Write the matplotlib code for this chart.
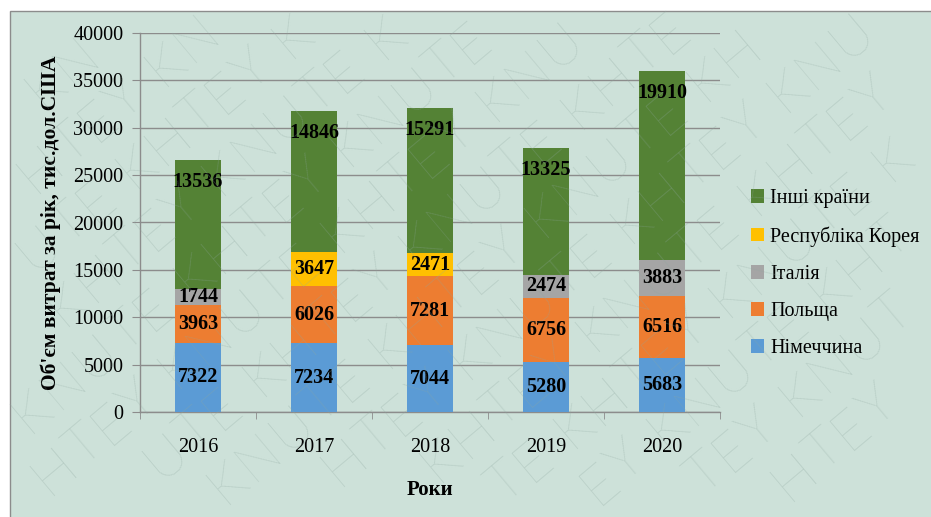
import matplotlib
matplotlib.use("Agg")
import matplotlib.pyplot as plt
import numpy as np
from matplotlib.patches import Rectangle
from matplotlib.ticker import FixedLocator, NullFormatter

years = ["2016", "2017", "2018", "2019", "2020"]
series_names = ["Німеччина", "Польща", "Італія", "Республіка Корея", "Інші країни"]
germany = [7322, 7234, 7044, 5280, 5683]
poland = [3963, 6026, 7281, 6756, 6516]
italy = [1744, 0, 0, 2474, 3883]
korea = [0, 3647, 2471, 0, 0]
others = [13536, 14846, 15291, 13325, 19910]
colors = ["#5b9bd5", "#ed7d31", "#a5a5a5", "#ffc000", "#548235"]
yticks = [0, 5000, 10000, 15000, 20000, 25000, 30000, 35000, 40000]
watermark_text = "KNUTE KHTEY "

bg = "#cde1d9"
serif = ["Liberation Serif", "DejaVu Serif"]

fig = plt.figure(figsize=(9.31, 5.17), dpi=100, facecolor="white")
W, H = 931, 517
fig.patches.append(Rectangle((10 / W, -0.01), 1.0, 1 - 11 / H + 0.01, transform=fig.transFigure,
                             facecolor=bg, edgecolor="#8c8c8c", lw=1.0, zorder=-5))

ax = fig.add_axes([140 / W, 1 - 412 / H, 580 / W, 379 / H])
ax.set_facecolor("none")
ax.set_zorder(1)

data = [germany, poland, italy, korea, others]
x = np.arange(len(years))
bottom = np.zeros(len(years))
for vals, col, name in zip(data, colors, series_names):
    v = np.array(vals, dtype=float)
    ax.bar(x, v, 0.4, bottom=bottom, color=col, label=name, zorder=3)
    for i in range(len(years)):
        if v[i] <= 0:
            continue
        center = bottom[i] + v[i] / 2
        top = bottom[i] + v[i]
        y = top - 2300 if name == "Інші країни" else center
        ax.text(x[i], y, f"{int(v[i])}", ha="center", va="center", fontsize=14.5,
                fontweight="bold", family=serif, color="black", zorder=5)
    bottom += v

ax.set_xlim(-0.5, len(years) - 0.5)
ax.set_ylim(0, 40000)
ax.set_yticks(yticks)
ax.set_yticklabels([str(t) for t in yticks], family=serif, fontsize=14.5)
ax.set_xticks(x)
ax.set_xticklabels(years, family=serif, fontsize=14.5)
ax.xaxis.set_minor_locator(FixedLocator(np.arange(-0.5, len(years), 1.0)))
ax.xaxis.set_minor_formatter(NullFormatter())
ax.tick_params(axis="x", which="major", length=0, pad=19)
ax.tick_params(axis="x", which="minor", length=5, color="#8c8c8c")
ax.tick_params(axis="y", length=6, color="#8c8c8c", pad=6)
ax.grid(axis="y", color="#8c8c8c", lw=1.0, zorder=1)
for s in ["top", "right"]:
    ax.spines[s].set_visible(False)
for s in ["left", "bottom"]:
    ax.spines[s].set_color("#8c8c8c")
    ax.spines[s].set_linewidth(1.0)

ax.set_ylabel("Об'єм витрат за рік, тис.дол.США", family=serif, fontsize=15.5,
              fontweight="bold", labelpad=9)
ax.set_xlabel("Роки", family=serif, fontsize=15, fontweight="bold", labelpad=16)

handles, labels = ax.get_legend_handles_labels()
leg = fig.legend(handles[::-1], labels[::-1], loc="upper left", bbox_to_anchor=(733 / W, 1 - 171 / H),
                 frameon=False, prop={"family": serif, "size": 14.5}, handlelength=0.65,
                 handleheight=0.65, handletextpad=0.3, labelspacing=0.9)

# watermark: letters placed along diagonal lines; letters not fully inside the figure are dropped
renderer = fig.canvas.get_renderer()
wm_font = dict(fontsize=40, family=["Lato", "DejaVu Sans"], fontweight="light")
adv = {}
for ch in set(watermark_text.replace(" ", "")):
    tmp = fig.text(0, 0, ch, **wm_font)
    adv[ch] = tmp.get_window_extent(renderer).width + 3
    tmp.remove()
adv[" "] = 0.45 * np.mean(list(adv.values()))

ang_deg = 40
ang = np.deg2rad(ang_deg)
d = np.array([np.cos(ang), np.sin(ang)])
p = np.array([-np.sin(ang), np.cos(ang)])
S = 60
n = len(watermark_text)
for j in range(-12, 10):
    s = -200.0 + (j * 53) % 150
    k = (j * 5) % n
    while s < 1150:
        ch = watermark_text[k % n]
        if ch != " ":
            pos = (s + adv[ch] / 2) * d + j * S * p
            if -50 < pos[0] < W + 50 and -50 < pos[1] < H + 50:
                t = fig.text(pos[0] / W, pos[1] / H, ch, rotation=ang_deg, color="#8fa8a0",
                             alpha=0.4, ha="center", va="center", zorder=10,
                             rotation_mode="anchor", **wm_font)
                bb = t.get_window_extent(renderer)
                if bb.x0 < 1 or bb.y0 < 1 or bb.x1 > W - 1 or bb.y1 > H - 1:
                    t.remove()
        s += adv[ch]
        k += 1

fig.savefig("out.png", dpi=100, facecolor="white")
